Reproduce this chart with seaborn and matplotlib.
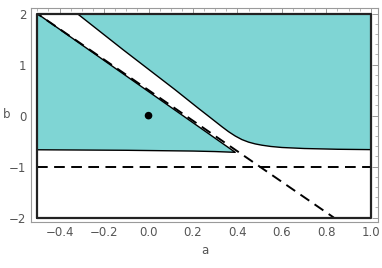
import matplotlib
matplotlib.use('Agg')
import matplotlib.pyplot as plt
import seaborn as sns
import pandas as pd
from matplotlib.ticker import MultipleLocator

# boundary of the left shaded region
left_a = [-0.5, 0.39, 0.3, 0.2, -0.1, -0.5]
left_b = [2.0, -0.72, -0.705, -0.695, -0.68, -0.67]

# boundary of the right shaded region
right_a = [-0.32, -0.1135, 0.119, 0.2236, 0.276, 0.33, 0.36, 0.39, 0.42, 0.45,
           0.48, 0.51, 0.55, 0.6, 0.7, 0.85, 1.0, 1.0]
right_b = [2.0, 1.29, 0.51, 0.146, -0.032, -0.217, -0.315, -0.40, -0.47, -0.52,
           -0.555, -0.58, -0.605, -0.625, -0.645, -0.66, -0.667, 2.0]

# dashed reference lines
diag_a = [-0.5, 0.8333]
diag_b = [2.0, -2.0]
horiz_a = [-0.5, 1.0]
horiz_b = [-1.0, -1.0]

# plot range frame
frame_a = [-0.5, 1.0, 1.0, -0.5, -0.5]
frame_b = [-2.0, -2.0, 2.0, 2.0, -2.0]

# marked point
pt_a = [0.0]
pt_b = [0.0]

x_ticks = [-0.4, -0.2, 0.0, 0.2, 0.4, 0.6, 0.8, 1.0]
y_ticks = [-2, -1, 0, 1, 2]

sns.set_style('white')
plt.rcParams['font.family'] = ['DejaVu Sans']

fig = plt.figure(figsize=(3.82, 2.68), dpi=100)
ax = fig.add_axes([0.0804, 0.173, 0.9096, 0.796])

teal = '#7fd5d4'
ax.fill(left_a, left_b, color=teal, lw=0, zorder=1)
ax.fill(right_a, right_b, color=teal, lw=0, zorder=1)

# region outlines
ax.plot(left_a, left_b, color='black', lw=1.0, zorder=2)
ax.plot(right_a[:-1], right_b[:-1], color='black', lw=1.0, zorder=2)

sns.lineplot(x=diag_a, y=diag_b, ax=ax, color='black', lw=1.4,
             linestyle=(3, (5.5, 3.3)), sort=False, estimator=None, zorder=3)
sns.lineplot(x=horiz_a, y=horiz_b, ax=ax, color='black', lw=1.4,
             linestyle=(0, (5.5, 3.3)), sort=False, estimator=None, zorder=3)

sns.lineplot(x=frame_a, y=frame_b, ax=ax, color='#222222', lw=1.6,
             sort=False, estimator=None, zorder=4)

sns.scatterplot(x=pt_a, y=pt_b, ax=ax, color='black', s=30,
                edgecolor='none', zorder=5)

ax.set_xlim(-0.53, 1.033)
ax.set_ylim(-2.08, 2.106)
ax.set_xticks(x_ticks)
ax.set_yticks(y_ticks)
ax.set_xticklabels([f'{v:.1f}'.replace('-', '\u2212') for v in x_ticks])
ax.set_yticklabels([str(v).replace('-', '\u2212') for v in y_ticks])
ax.xaxis.set_minor_locator(MultipleLocator(0.05))
ax.yaxis.set_minor_locator(MultipleLocator(0.2))

gray = '#9a9a9a'
ax.tick_params(which='both', direction='in', top=True, right=True,
               color=gray, labelcolor='#555555', labelsize=8.5, pad=3)
ax.tick_params(which='major', length=4, width=0.7)
ax.tick_params(which='minor', length=2, width=0.5)
for s in ax.spines.values():
    s.set_color(gray)
    s.set_linewidth(0.8)

ax.set_xlabel('a', color='#555555', fontsize=8.5, labelpad=4)
ax.set_ylabel('b', color='#555555', fontsize=8.5, rotation=0, va='center', ha='center')
ax.yaxis.set_label_coords(-0.068, 0.5)

fig.savefig('out.png', dpi=100)
